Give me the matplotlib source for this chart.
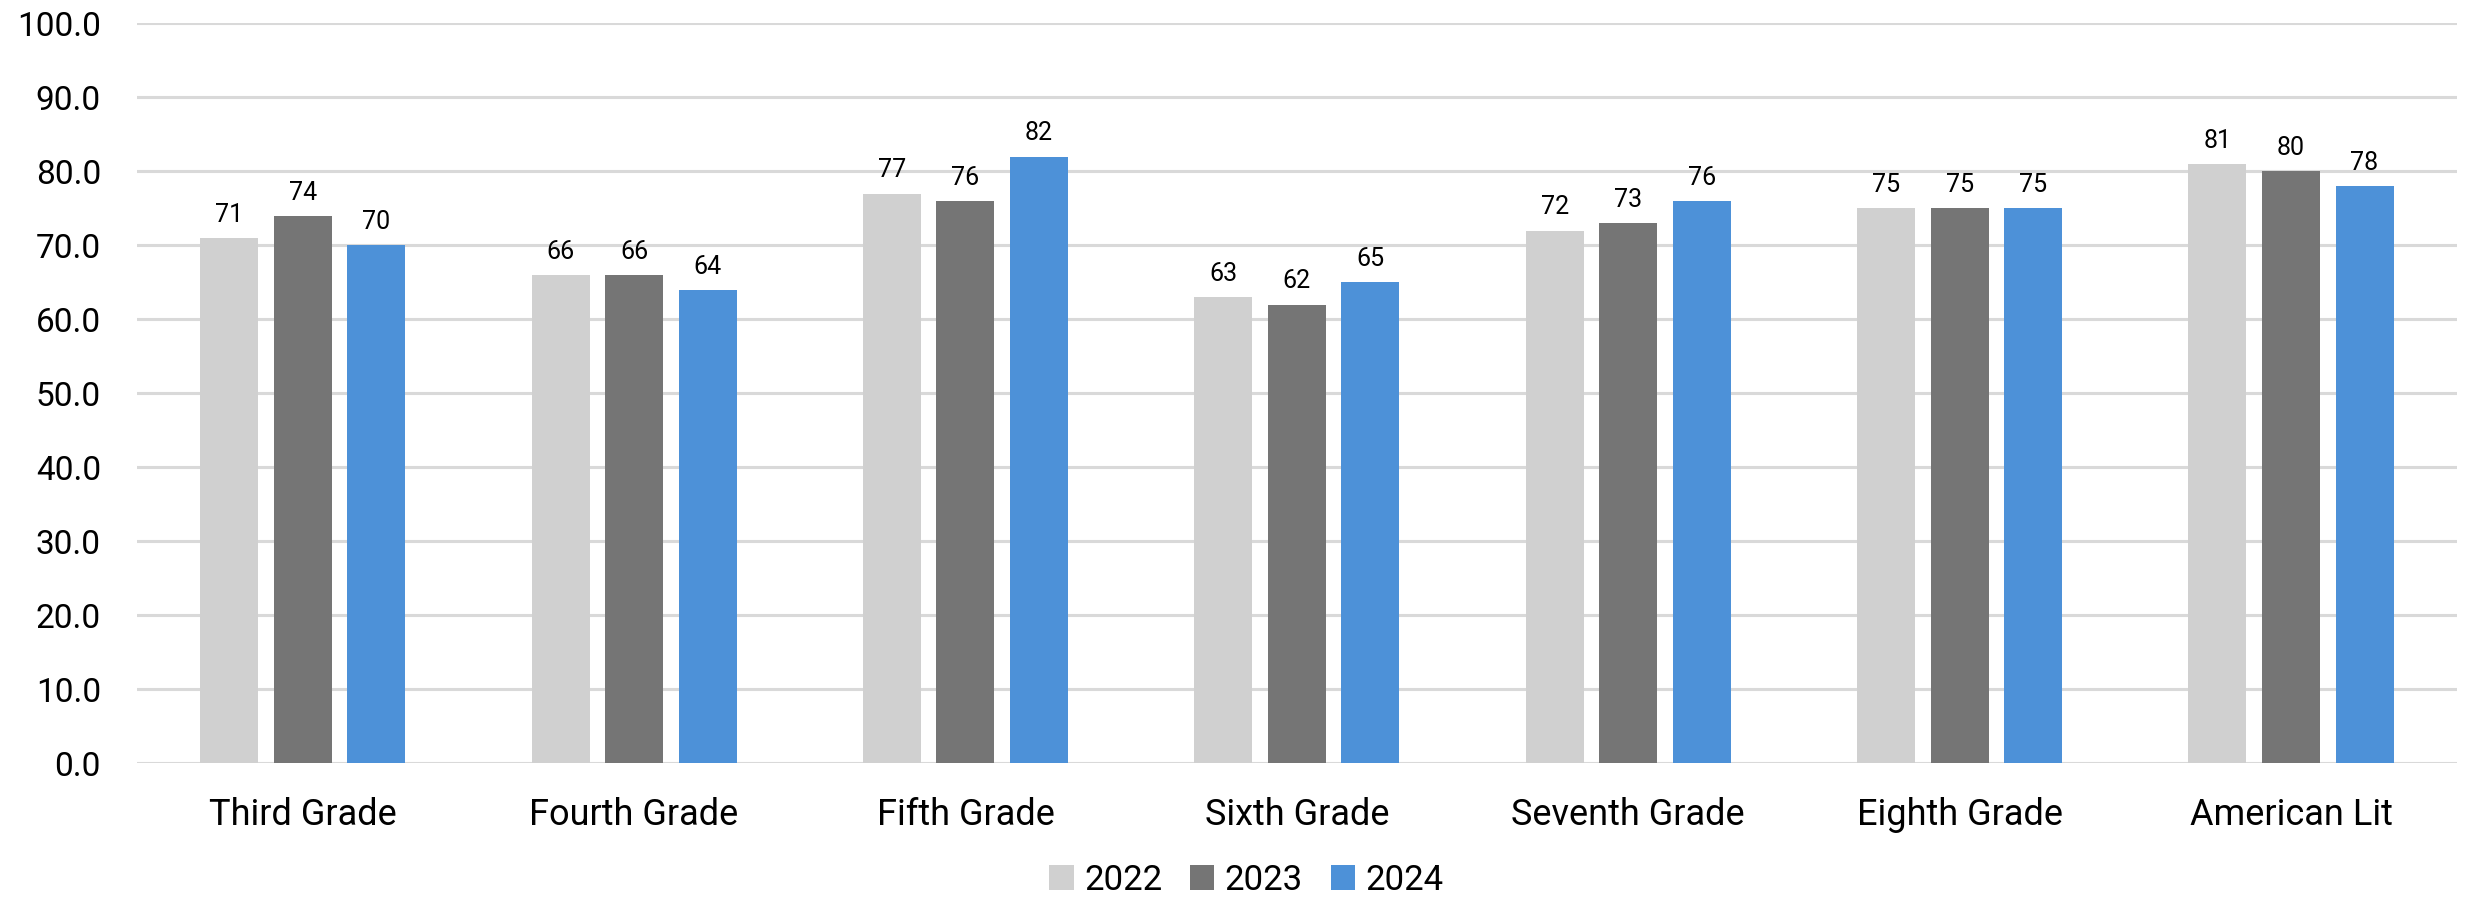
import matplotlib.pyplot as plt
import numpy as np

plt.rcParams['font.family'] = ['Roboto', 'DejaVu Sans']

grades = ['Third Grade', 'Fourth Grade', 'Fifth Grade', 'Sixth Grade',
          'Seventh Grade', 'Eighth Grade', 'American Lit']
years = ['2022', '2023', '2024']
scores_2022 = [71, 66, 77, 63, 72, 75, 81]
scores_2023 = [74, 66, 76, 62, 73, 75, 80]
scores_2024 = [70, 64, 82, 65, 76, 75, 78]

colors = ['#D0D0D0', '#757575', '#4D91D8']

fig = plt.figure(figsize=(24.73, 8.98), dpi=100)
ax = fig.add_axes([0.0554, 0.150, 0.938, 0.824])

x = np.arange(len(grades))
width = 0.175
step = 0.222

for i, (vals, yr, c) in enumerate(zip([scores_2022, scores_2023, scores_2024], years, colors)):
    bars = ax.bar(x + (i - 1) * step, vals, width, color=c, label=yr, zorder=2)
    ax.bar_label(bars, labels=[str(v) for v in vals], padding=8, fontsize=18)

ax.set_xlim(-0.5, len(grades) - 0.5)
ax.set_ylim(0, 100)
ax.set_yticks(np.arange(0, 101, 10))
ax.set_yticklabels([f'{v:.1f}' for v in np.arange(0, 101, 10)], fontsize=24)
ax.set_xticks(x)
ax.set_xticklabels(grades, fontsize=26)
ax.tick_params(axis='both', length=0)
ax.tick_params(axis='y', pad=26)
ax.tick_params(axis='x', pad=24)

ax.grid(axis='y', color='#D9D9D9', linewidth=2.2, zorder=0)
for s in ax.spines.values():
    s.set_visible(False)

fig.legend(*ax.get_legend_handles_labels(), loc='center',
           bbox_to_anchor=(0.504, 0.02), ncol=3, frameon=False,
           fontsize=25, handlelength=0.7, handleheight=0.7, handletextpad=0.3,
           columnspacing=0.8)

fig.savefig('out.png', dpi=100)
